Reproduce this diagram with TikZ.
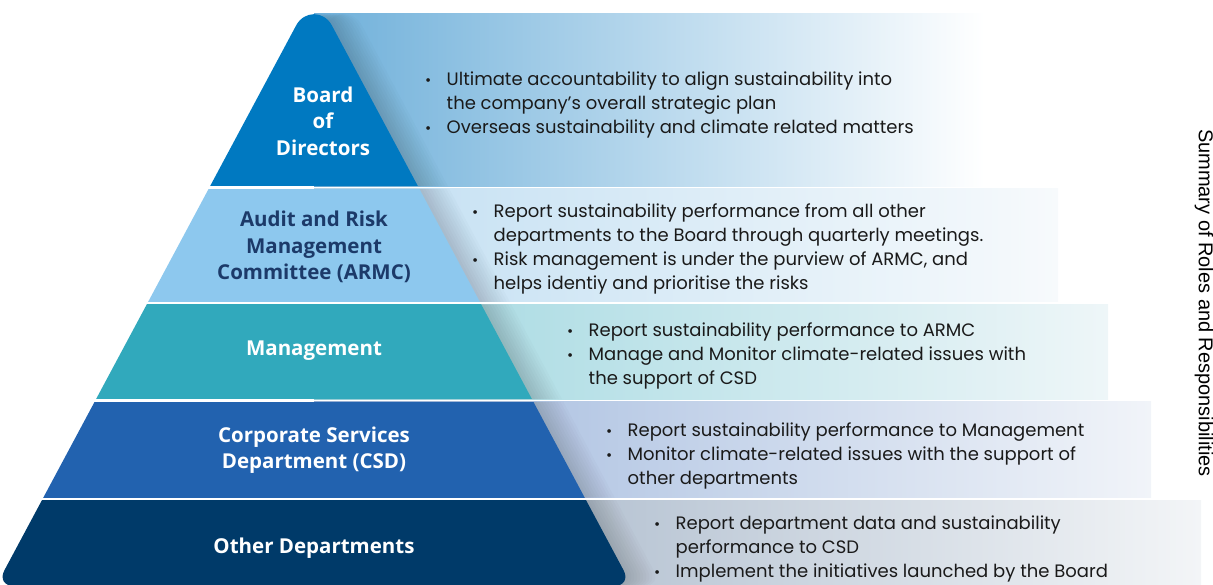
\documentclass[tikz,border=0pt]{standalone}
\usepackage{fontspec}
\setmainfont{Poppins}
\newfontfamily\tierfont{Open Sans}
\newfontfamily\titlefont{Liberation Sans}

% tier colours of the pyramid
\definecolor{boardblue}{HTML}{0079C1}
\definecolor{armcblue}{HTML}{8DC8EE}
\definecolor{mgmtteal}{HTML}{31A9BC}
\definecolor{csdblue}{HTML}{2262AF}
\definecolor{othernavy}{HTML}{003A69}
\definecolor{armctext}{HTML}{1C3A69}
\definecolor{bodytext}{HTML}{1A1A1A}
% description bands (left end / right end)
\definecolor{bandAl}{HTML}{6FB0DA}
\definecolor{bandAr}{HTML}{FFFFFF}
\definecolor{bandBl}{HTML}{C0DEF2}
\definecolor{bandBr}{HTML}{F7FAFC}
\definecolor{bandCl}{HTML}{9DD6DF}
\definecolor{bandCr}{HTML}{EEF6F8}
\definecolor{bandDl}{HTML}{9DB6DC}
\definecolor{bandDr}{HTML}{F1F4F9}
\definecolor{bandEl}{HTML}{9CAEC3}
\definecolor{bandEr}{HTML}{F3F5F7}

\newcommand{\itm}{\makebox[21.5pt][l]{\fontsize{15}{15}\selectfont•}}
\newcommand{\cnt}{\hspace*{21.5pt}}

\tikzset{
  pyr/.style={insert path={
    (14,586) -- (614,586)
    .. controls (623.9,586) and (628.2,578.8) .. (623.5,570.1)
    -- (331.9,25.5)
    .. controls (323.8,10.4) and (304.2,10.4) .. (296.1,25.5)
    -- (4.5,570.1)
    .. controls (-0.2,578.8) and (4.1,586) .. (14,586) -- cycle}},
  tier/.style={align=center, inner sep=0pt, text=white,
    font=\tierfont\bfseries\fontsize{20.5}{26.5}\selectfont},
  duties/.style={anchor=base west, inner sep=0pt, text=bodytext,
    font=\fontsize{18}{24}\selectfont},
  shadowlayer/.style={fill=black, fill opacity=0.016}
}

\begin{document}
\begin{tikzpicture}[x=1pt, y=-1pt]
\useasboundingbox (0,0) rectangle (1213,585);

% description bands behind the pyramid
\shade[left color=bandAl, right color=bandAr] (314,14) rectangle (985,186.5);
\shade[left color=bandBl, right color=bandBr] (314,189) rectangle (1058,302);
\shade[left color=bandCl, right color=bandCr] (314,304.5) rectangle (1108,399);
\shade[left color=bandDl, right color=bandDr] (314,401.5) rectangle (1151,497.5);
\shade[left color=bandEl, right color=bandEr] (314,500) rectangle (1201,590);

% soft shadow cast by the pyramid onto the bands
\begin{scope}
  \clip (314,14) rectangle (985,186.5)
        (314,189) rectangle (1058,302)
        (314,304.5) rectangle (1108,399)
        (314,401.5) rectangle (1151,497.5)
        (314,500) rectangle (1201,590);
  \foreach \s in {3,6,...,30} {
    \path[shadowlayer, xshift=\s pt, pyr];
  }
\end{scope}

% pyramid tiers
\begin{scope}
  \clip[pyr];
  \fill[boardblue] (0,-30) rectangle (640,186.5);
  \fill[armcblue]  (0,189) rectangle (640,302);
  \fill[mgmtteal]  (0,304.5) rectangle (640,399);
  \fill[csdblue]   (0,401.5) rectangle (640,497.5);
  \fill[othernavy] (0,500) rectangle (640,600);
\end{scope}

% tier names
\node[tier] (board) at (323,121) {Board\\of\\Directors};
\node[tier, text=armctext] (armc) at (314,247) {Audit and Risk\\Management\\Committee (ARMC)};
\node[tier] (mgmt) at (314,351) {Management};
\node[tier] (csd) at (314,450) {Corporate Services\\Department (CSD)};
\node[tier] (other) at (314,548) {Other Departments};

% duties of each tier
\node[duties] (dutyboard) at (425,86) {\begin{tabular}[t]{@{}l@{}}
  \itm Ultimate accountability to align sustainability into\\
  \cnt the company’s overall strategic plan\\
  \itm Overseas sustainability and climate related matters
\end{tabular}};
\node[duties] (dutyarmc) at (472,217.5) {\begin{tabular}[t]{@{}l@{}}
  \itm Report sustainability performance from all other\\
  \cnt departments to the Board through quarterly meetings.\\
  \itm Risk management is under the purview of ARMC, and\\
  \cnt helps identiy and prioritise the risks
\end{tabular}};
\node[duties] (dutymgmt) at (567,336.5) {\begin{tabular}[t]{@{}l@{}}
  \itm Report sustainability performance to ARMC\\
  \itm Manage and Monitor climate-related issues with\\
  \cnt the support of CSD
\end{tabular}};
\node[duties] (dutycsd) at (606,436.5) {\begin{tabular}[t]{@{}l@{}}
  \itm Report sustainability performance to Management\\
  \itm Monitor climate-related issues with the support of\\
  \cnt other departments
\end{tabular}};
\node[duties] (dutyother) at (654,529.5) {\begin{tabular}[t]{@{}l@{}}
  \itm Report department data and sustainability\\
  \cnt performance to CSD\\
  \itm Implement the initiatives launched by the Board
\end{tabular}};

% side title
\node[rotate=-90, anchor=base, inner sep=0pt, font=\titlefont\fontsize{20}{24}\selectfont] (title) at (1198.8,303) {Summary of Roles and Responsibilities};
\end{tikzpicture}
\end{document}
